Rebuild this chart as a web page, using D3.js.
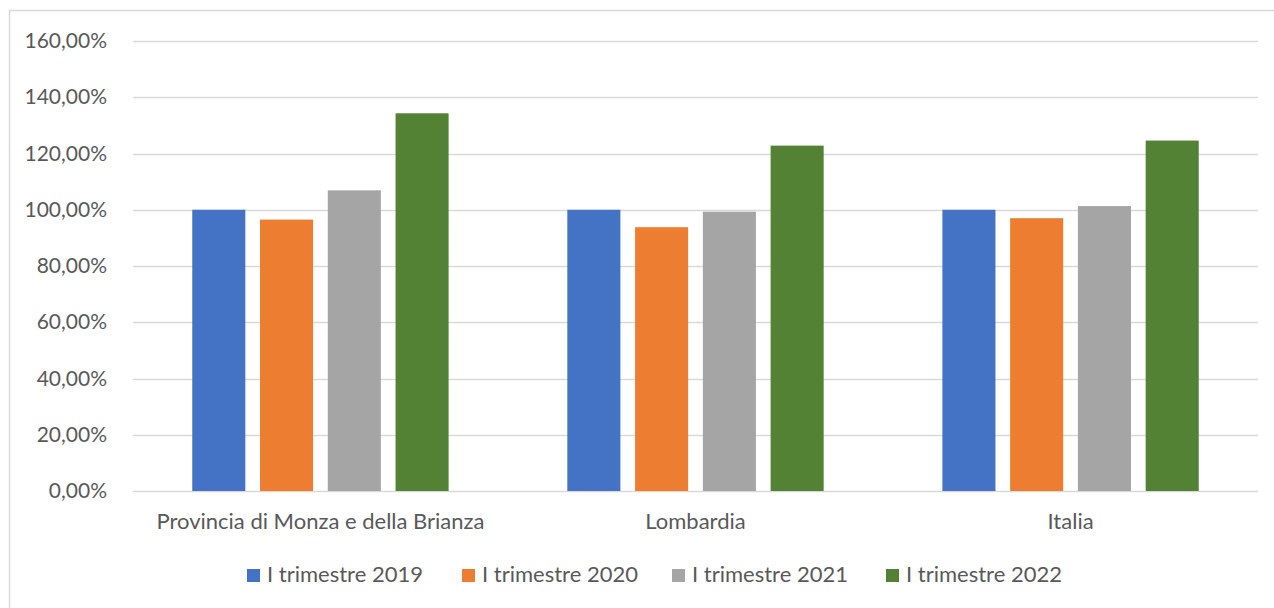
<!DOCTYPE html>
<html>
<head>
<meta charset="utf-8">
<script src="https://cdn.jsdelivr.net/npm/d3@7"></script>
<style>
  body { margin: 0; background: #fff; }
  svg text { font-family: Lato, "Open Sans", sans-serif; fill: #595959; }
</style>
</head>
<body>
<div class="vis-barchart"></div>
<script>
const categories = ["Provincia di Monza e della Brianza", "Lombardia", "Italia"];
const seriesNames = ["I trimestre 2019", "I trimestre 2020", "I trimestre 2021", "I trimestre 2022"];
const seriesColors = ["#4472C4", "#ED7D31", "#A5A5A5", "#548235"];
const values2019 = [100, 100, 100];
const values2020 = [96.5, 93.8, 97.0];
const values2021 = [106.9, 99.3, 101.3];
const values2022 = [134.3, 122.8, 124.6];
const yTicks = [0, 20, 40, 60, 80, 100, 120, 140, 160];

const allValues = [values2019, values2020, values2021, values2022];

const W = 1274, H = 608;
let margin = { top: 41, right: 16, bottom: 117, left: 133 };
const width = W - margin.left - margin.right;
const height = H - margin.top - margin.bottom;

let svg = d3.select(".vis-barchart")
  .append("svg")
  .attr("width", W)
  .attr("height", H);

// chart area border
svg.append("rect")
  .attr("x", 9.5).attr("y", 10.5)
  .attr("width", 1300).attr("height", 700)
  .attr("fill", "none")
  .attr("stroke", "#D9D9D9")
  .attr("stroke-width", 1.5);

let g = svg.append("g")
  .attr("transform", "translate(" + margin.left + "," + margin.top + ")");

let x0 = d3.scaleBand()
  .domain(categories)
  .range([0, width])
  .paddingInner(0.3165)
  .paddingOuter(0.158);

let x1 = d3.scaleBand()
  .domain(seriesNames)
  .range([0, x0.bandwidth()])
  .paddingInner(0.217);

let y = d3.scaleLinear()
  .domain([0, 160])
  .range([height, 0]);

// gridlines
g.append("g")
  .selectAll("line")
  .data(yTicks)
  .enter()
  .append("line")
  .attr("x1", 0)
  .attr("x2", width)
  .attr("y1", d => Math.round(y(d)) + 0.5)
  .attr("y2", d => Math.round(y(d)) + 0.5)
  .attr("stroke", "#D9D9D9")
  .attr("stroke-width", 1.5);

// y axis labels
let yAxis = g.append("g")
  .attr("transform", "translate(-23,0)")
  .call(d3.axisLeft(y).tickValues(yTicks).tickSize(0)
    .tickFormat(d => d3.format(".2f")(d).replace(".", ",") + "%"));
yAxis.select(".domain").remove();
yAxis.selectAll("text")
  .style("font-size", "21px")
  .style("fill", "#595959")
  .style("font-family", "Lato, sans-serif");

// bars
let groups = g.selectAll(".cat")
  .data(categories)
  .enter()
  .append("g")
  .attr("class", "cat")
  .attr("transform", d => "translate(" + x0(d) + ",0)");

groups.selectAll("rect")
  .data((d, ci) => seriesNames.map((s, si) => ({ s: s, v: allValues[si][ci], c: seriesColors[si] })))
  .enter()
  .append("rect")
  .attr("x", d => x1(d.s))
  .attr("width", x1.bandwidth())
  .attr("y", d => y(d.v))
  .attr("height", d => height - y(d.v))
  .attr("fill", d => d.c);

// x axis labels
let xAxis = g.append("g")
  .attr("transform", "translate(0," + height + ")")
  .call(d3.axisBottom(x0).tickSize(0).tickPadding(22));
xAxis.select(".domain").remove();
xAxis.selectAll("text")
  .style("font-size", "22px")
  .style("fill", "#595959")
  .style("font-family", "Lato, sans-serif");

// legend
const legendX = [247, 462, 672, 886];
let legend = svg.append("g");
let items = legend.selectAll("g")
  .data(seriesNames)
  .enter()
  .append("g")
  .attr("transform", (d, i) => "translate(" + legendX[i] + ",569)");
items.append("rect")
  .attr("width", 13).attr("height", 13)
  .attr("fill", (d, i) => seriesColors[i]);
items.append("text")
  .attr("x", 20)
  .attr("y", 13)
  .style("font-size", "22px")
  .text(d => d);
</script>
</body>
</html>
